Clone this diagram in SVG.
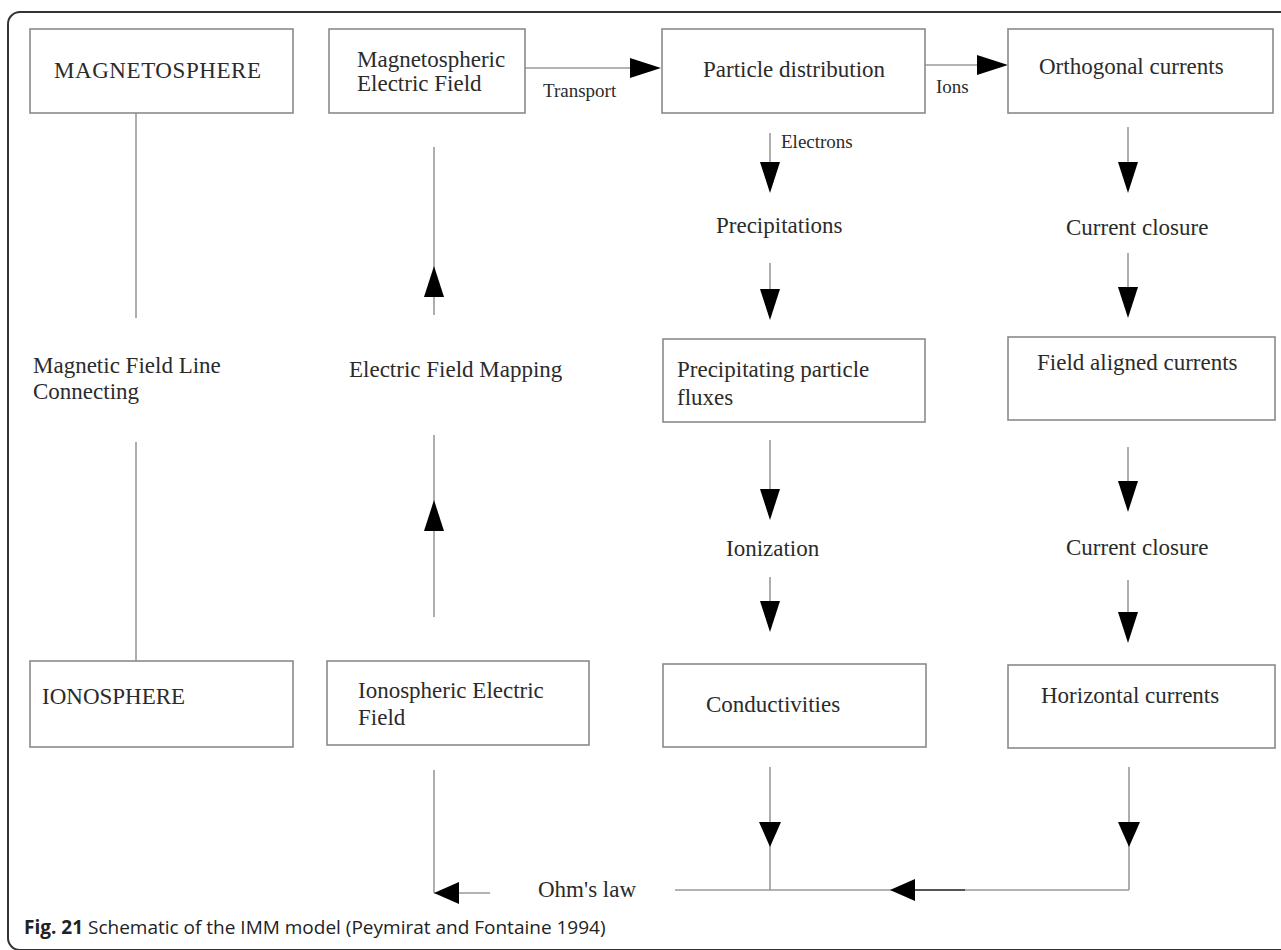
<svg xmlns="http://www.w3.org/2000/svg" width="1281" height="950" viewBox="0 0 1281 950">
<style>
.bx{fill:#fff;stroke:#8a8a8a;stroke-width:1.6}
.t{font-family:"Liberation Serif","Times New Roman",serif;font-size:23px;fill:#2b2b2b}
.s{font-family:"Liberation Serif","Times New Roman",serif;font-size:19px;fill:#2b2b2b}
.ln{stroke:#9a9a9a;stroke-width:1.6;fill:none}
.hd{fill:#000}
.cap{font-family:"Open Sans","Noto Sans","Liberation Sans",sans-serif;font-size:19px;fill:#222}
</style>
<defs>
<path id="h" d="M-10,-31 L10,-31 L0,0 Z"/>
<path id="hs" d="M-11,-25 L11,-25 L0,0 Z"/>
</defs>
<rect width="1281" height="950" fill="#fff"/>
<rect x="8" y="12" width="1300" height="938" rx="12" fill="none" stroke="#333" stroke-width="2"/>

<g id="connectors">
<line class="ln" x1="136" y1="113" x2="136" y2="318"/>
<line class="ln" x1="136" y1="442" x2="136" y2="661"/>
<line class="ln" x1="434" y1="147" x2="434" y2="315"/>
<line class="ln" x1="434" y1="435" x2="434" y2="617"/>
<line class="ln" x1="434" y1="770" x2="434" y2="893"/>
<line class="ln" x1="434" y1="893" x2="490" y2="893"/>
<line class="ln" x1="525" y1="68" x2="650" y2="68"/>
<line class="ln" x1="925" y1="65" x2="998" y2="65"/>
<line class="ln" x1="770" y1="133" x2="770" y2="185"/>
<line class="ln" x1="770" y1="263" x2="770" y2="310"/>
<line class="ln" x1="770" y1="440" x2="770" y2="510"/>
<line class="ln" x1="770" y1="577" x2="770" y2="622"/>
<line class="ln" x1="770" y1="767" x2="770" y2="890"/>
<line class="ln" x1="1128" y1="127" x2="1128" y2="185"/>
<line class="ln" x1="1128" y1="253" x2="1128" y2="310"/>
<line class="ln" x1="1128" y1="447" x2="1128" y2="505"/>
<line class="ln" x1="1128" y1="580" x2="1128" y2="635"/>
<line class="ln" x1="1129" y1="767" x2="1129" y2="890"/>
<line class="ln" x1="675" y1="890" x2="1129" y2="890"/>
<line x1="905" y1="890" x2="965" y2="890" stroke="#555" stroke-width="2"/>
<use href="#h" class="hd" transform="translate(770,193)"/>
<use href="#h" class="hd" transform="translate(770,320)"/>
<use href="#h" class="hd" transform="translate(770,520)"/>
<use href="#h" class="hd" transform="translate(770,632)"/>
<use href="#hs" class="hd" transform="translate(770,847)"/>
<use href="#h" class="hd" transform="translate(1128,193)"/>
<use href="#h" class="hd" transform="translate(1128,318)"/>
<use href="#h" class="hd" transform="translate(1128,512)"/>
<use href="#h" class="hd" transform="translate(1128,643)"/>
<use href="#hs" class="hd" transform="translate(1129,847)"/>
<use href="#h" class="hd" transform="translate(434,266) rotate(180)"/>
<use href="#h" class="hd" transform="translate(434,500) rotate(180)"/>
<use href="#h" class="hd" transform="translate(661,68) rotate(-90)"/>
<use href="#h" class="hd" transform="translate(1008,65) rotate(-90)"/>
<use href="#hs" class="hd" transform="translate(434,893) rotate(90)"/>
<use href="#hs" class="hd" transform="translate(890,890) rotate(90)"/>
</g>

<g id="magnetosphere"><rect class="bx" x="30" y="29" width="263" height="84"/><text class="t" x="54" y="78" textLength="207">MAGNETOSPHERE</text></g>
<g id="mag-efield"><rect class="bx" x="329" y="29" width="196" height="84"/><text class="t" x="357" y="67">Magnetospheric</text><text class="t" x="357" y="91">Electric Field</text></g>
<g id="particle-dist"><rect class="bx" x="662" y="29" width="263" height="84"/><text class="t" x="703" y="77">Particle distribution</text></g>
<g id="orthogonal"><rect class="bx" x="1008" y="29" width="265" height="84"/><text class="t" x="1039" y="74">Orthogonal currents</text></g>
<g id="precip-flux"><rect class="bx" x="663" y="339" width="262" height="83"/><text class="t" x="677" y="377">Precipitating particle</text><text class="t" x="677" y="405">fluxes</text></g>
<g id="fac"><rect class="bx" x="1008" y="337" width="267" height="83"/><text class="t" x="1037" y="370">Field aligned currents</text></g>
<g id="ionosphere"><rect class="bx" x="30" y="661" width="263" height="86"/><text class="t" x="42" y="704">IONOSPHERE</text></g>
<g id="iono-efield"><rect class="bx" x="327" y="661" width="262" height="84"/><text class="t" x="358" y="698">Ionospheric Electric</text><text class="t" x="358" y="725">Field</text></g>
<g id="conductivities"><rect class="bx" x="663" y="664" width="263" height="83"/><text class="t" x="706" y="712">Conductivities</text></g>
<g id="horizontal"><rect class="bx" x="1008" y="665" width="267" height="83"/><text class="t" x="1041" y="703">Horizontal currents</text></g>

<g id="labels">
<text class="s" x="543" y="97">Transport</text>
<text class="s" x="936" y="93">Ions</text>
<text class="s" x="781" y="148">Electrons</text>
<text class="t" x="716" y="233">Precipitations</text>
<text class="t" x="1066" y="235">Current closure</text>
<text class="t" x="726" y="556">Ionization</text>
<text class="t" x="1066" y="555">Current closure</text>
<text class="t" x="33" y="373">Magnetic Field Line</text>
<text class="t" x="33" y="399">Connecting</text>
<text class="t" x="349" y="377">Electric Field Mapping</text>
<text class="t" x="538" y="897">Ohm's law</text>
</g>
<text class="cap" x="24" y="934"><tspan font-weight="bold">Fig. 21</tspan> Schematic of the IMM model (Peymirat and Fontaine 1994)</text>
</svg>
